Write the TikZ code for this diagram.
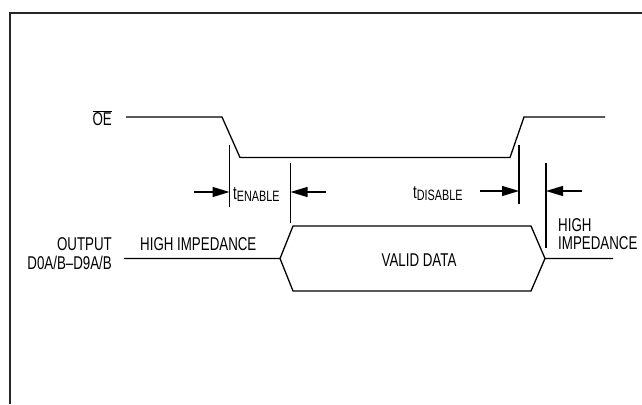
\documentclass[tikz,border=0pt]{standalone}
\usepackage{fontspec}
\setmainfont{Liberation Sans}[FakeStretch=0.72]
\usetikzlibrary{arrows.meta}
\newcommand{\tsub}[1]{\raisebox{-2pt}{\fontsize{15}{16}\selectfont #1}}
\begin{document}
\begin{tikzpicture}[x=1pt,y=-1pt]
	\tikzstyle{every node}=[inner sep=0pt,font=\fontsize{18.5}{21}\selectfont]
	\tikzstyle{wave}=[line width=1.3pt,line join=miter]
	\tikzstyle{tick}=[line width=1.3pt]
	\tikzstyle{dim}=[line width=1.3pt,-{Triangle[length=17pt,width=10pt]}]
	\useasboundingbox (0,0) rectangle (642,404);
	
	% frame
	\draw [line width=2pt, black!85] (9.5,404) -- (9.5,13) -- (642,13);
	
	% OE
	\node [anchor=east] (oe) at (112,118) {$\overline{\mbox{OE}}$};
	\draw [wave] (126,117) -- (222,117) -- (240,157.5) -- (510,157.5) -- (524,117) -- (605,117);
	
	% output bus
	\node [anchor=base east] (out) at (112,250) {OUTPUT};
	\node [anchor=base east] (bus) at (112,269.5) {D0A/B--D9A/B};
	\node [anchor=base west] (hiz) at (140,250.5) {HIGH IMPEDANCE};
	\draw [wave] (124,258.5) -- (280,258.5) -- (293,226) -- (531,226) -- (545,258.5) -- (613,258.5);
	\draw [wave] (280,258.5) -- (293,291) -- (531,291) -- (545,258.5);
	\node [anchor=base] (valid) at (419,266.5) {VALID DATA};
	\node [anchor=base west] (hiz2) at (558,231.5) {HIGH};
	\node [anchor=base west] (hiz3) at (558,249) {IMPEDANCE};
	
	% enable
	\draw [tick] (229.5,145) -- (229.5,207);
	\draw [tick] (290.5,163) -- (290.5,223);
	\coordinate (en1) at (229.5,192);
	\coordinate (en2) at (290.5,192);
	\coordinate (en1s) at (194,192);
	\coordinate (en2s) at (326,192);
	\draw [dim] (en1s) -- (en1);
	\draw [dim] (en2s) -- (en2);
	\node [anchor=base west] (ten) at (233,199) {t\tsub{ENABLE}};
	
	% disable
	\draw [tick] (519,145) -- (519,204);
	\draw [tick] (546,163) -- (546,248);
	\coordinate (dis1) at (519,191);
	\coordinate (dis2) at (546,191);
	\coordinate (dis1s) at (480,191);
	\coordinate (dis2s) at (582,191);
	\draw [dim] (dis1s) -- (dis1);
	\draw [dim] (dis2s) -- (dis2);
	\node [anchor=base west] (tdis) at (413,198) {t\tsub{DISABLE}};
	
\end{tikzpicture}
\end{document}
